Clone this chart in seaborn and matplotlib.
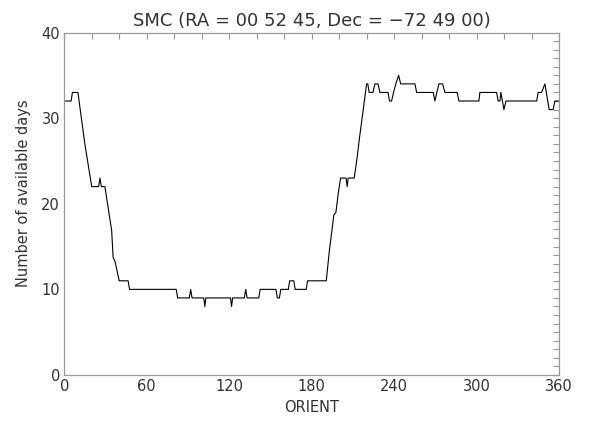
import matplotlib
matplotlib.use("Agg")
import matplotlib.pyplot as plt
import seaborn as sns
import pandas as pd
from matplotlib.ticker import MultipleLocator

# Data (vertices of the step-like curve)
orient = [0, 5, 6, 10, 15, 20, 25, 26, 27, 29.6, 34.5, 35.6, 36.9, 40, 46.5, 47.5,
          81.5, 82.5, 91, 92, 93, 101.5, 102.3, 103, 121, 121.7, 122.5, 131, 132, 133,
          141.5, 142.5, 154, 155, 156.5, 157.5, 163, 164, 167, 168, 176, 177, 190.6,
          192.7, 196.1, 197.6, 199.3, 201, 205, 205.8, 206.5, 210.9, 212.7, 215, 217.5,
          219.9, 220.8, 221.8, 224.5, 226, 228.2, 229.6, 235.5, 236.6, 238.1, 239.5,
          241.2, 243.2, 244.7, 255.1, 256.3, 268.4, 269.6, 271, 272.5, 275.2, 276.9,
          285.8, 287.1, 301.6, 302.3, 314.5, 315.6, 316.9, 317.6, 319.8, 321.3, 343.6,
          344.7, 347.2, 349.6, 352.7, 355.6, 356.9, 359.5]
days = [32, 32, 33, 33, 27, 22, 22, 23, 22, 22, 16.9, 13.7, 13.3, 11, 11, 10,
        10, 9, 9, 10, 9, 9, 8, 9, 9, 8, 9, 9, 10, 9,
        9, 10, 10, 9, 9, 10, 10, 11, 11, 10, 10, 11, 11,
        14.3, 18.7, 19, 21.2, 23, 23, 22, 23, 23, 25, 28, 31,
        34, 34, 33, 33, 34, 34, 33, 33, 32, 32, 33,
        34, 35, 34, 34, 33, 33, 32, 33, 34, 34, 33,
        33, 32, 32, 33, 33, 32, 32, 33, 31, 32, 32,
        33, 33, 34, 31, 31, 32, 32]

title_text = "SMC (RA = 00 52 45, Dec = \u221272 49 00)"
xlabel_text = "ORIENT"
ylabel_text = "Number of available days"
xticks = [0, 60, 120, 180, 240, 300, 360]
yticks = [0, 10, 20, 30, 40]

sns.set_style("white")
plt.rcParams["font.family"] = ["DejaVu Sans"]

fig = plt.figure(figsize=(6.0, 4.24), dpi=100)
ax = fig.add_axes([0.107, 0.1156, 0.825, 0.8077])

df = pd.DataFrame({"ORIENT": orient, "days": days})
sns.lineplot(data=df, x="ORIENT", y="days", ax=ax, color="black",
             linewidth=0.8, estimator=None, sort=False)

ax.set_xlim(0, 360)
ax.set_ylim(0, 40)
ax.set_xticks(xticks)
ax.set_yticks(yticks)
ax.xaxis.set_minor_locator(MultipleLocator(20))
ax.yaxis.set_minor_locator(MultipleLocator(1))

axis_col = "#999999"
txt_col = "#333333"
for sp in ax.spines.values():
    sp.set_visible(True)
    sp.set_color(axis_col)
    sp.set_linewidth(0.9)

ax.tick_params(which="both", direction="in", top=True, right=True,
               color=axis_col, width=0.8, labelsize=10.5, labelcolor=txt_col)
ax.tick_params(which="major", length=4)
ax.tick_params(which="minor", length=4)
ax.tick_params(axis="x", which="major", pad=3)
ax.tick_params(axis="y", which="major", pad=3)

ax.set_xlabel(xlabel_text, fontsize=10.5, color=txt_col, labelpad=4)
ax.set_ylabel(ylabel_text, fontsize=10.5, color=txt_col, labelpad=12)
ax.yaxis.set_label_coords(-0.068, 0.53)
ax.set_title(title_text, fontsize=13, color=txt_col, pad=5)
ax.grid(False)

fig.savefig("out.png", dpi=100)
